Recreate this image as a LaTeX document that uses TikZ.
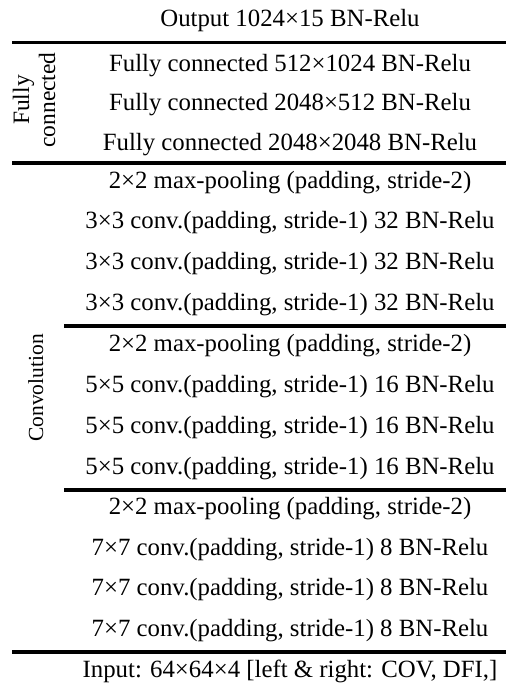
\documentclass[tikz,border=0pt]{standalone}
\usepackage{fontspec}
\setmainfont{Liberation Serif}
\begin{document}
\begin{tikzpicture}[x=1pt,y=-1pt,
  row/.style={anchor=base, inner sep=0pt, font=\fontsize{24.8}{28}\selectfont},
  side/.style={anchor=base, inner sep=0pt, rotate=90, font=\fontsize{23.5}{28}\selectfont},
  rule/.style={line width=3.6pt}]
\useasboundingbox (0,0) rectangle (506,683);

% layer rows (text centred at x = 290, y = baseline)
\node[row] (out)  at (290,26)    {Output 1024×15 BN-Relu};
\node[row] (fca)  at (290,71)    {Fully connected 512×1024 BN-Relu};
\node[row] (fcb)  at (290,110.5) {Fully connected 2048×512 BN-Relu};
\node[row] (fcc)  at (290,150)   {Fully connected 2048×2048 BN-Relu};

\node[row] (mpa)  at (290,188)   {2×2 max-pooling (padding, stride-2)};
\node[row] (c3a)  at (290,228.5) {3×3 conv.(padding, stride-1) 32 BN-Relu};
\node[row] (c3b)  at (290,269.5) {3×3 conv.(padding, stride-1) 32 BN-Relu};
\node[row] (c3c)  at (290,310)   {3×3 conv.(padding, stride-1) 32 BN-Relu};

\node[row] (mpb)  at (290,351)   {2×2 max-pooling (padding, stride-2)};
\node[row] (c5a)  at (290,392)   {5×5 conv.(padding, stride-1) 16 BN-Relu};
\node[row] (c5b)  at (290,433)   {5×5 conv.(padding, stride-1) 16 BN-Relu};
\node[row] (c5c)  at (290,474)   {5×5 conv.(padding, stride-1) 16 BN-Relu};

\node[row] (mpc)  at (290,514.5) {2×2 max-pooling (padding, stride-2)};
\node[row] (c7a)  at (290,555.5) {7×7 conv.(padding, stride-1) 8 BN-Relu};
\node[row] (c7b)  at (290,595.5) {7×7 conv.(padding, stride-1) 8 BN-Relu};
\node[row] (c7c)  at (290,636)   {7×7 conv.(padding, stride-1) 8 BN-Relu};

\node[row] (inp)  at (290,677)   {Input: 64×64×4 [left \& right: COV, DFI,]};

% group labels
\node[side] (fully) at (29,100)  {Fully};
\node[side] (conn)  at (55,100)  {connected};
\node[side, font=\fontsize{21.5}{26}\selectfont] (conv) at (43,388) {Convolution};

% horizontal rules
\draw[rule] (12,42.3) -- (506,42.3);
\draw[rule] (12,163)  -- (506,163);
\draw[rule] (64,326)  -- (506,326);
\draw[rule] (64,490)  -- (506,490);
\draw[rule] (12,652)  -- (506,652);
\end{tikzpicture}
\end{document}
